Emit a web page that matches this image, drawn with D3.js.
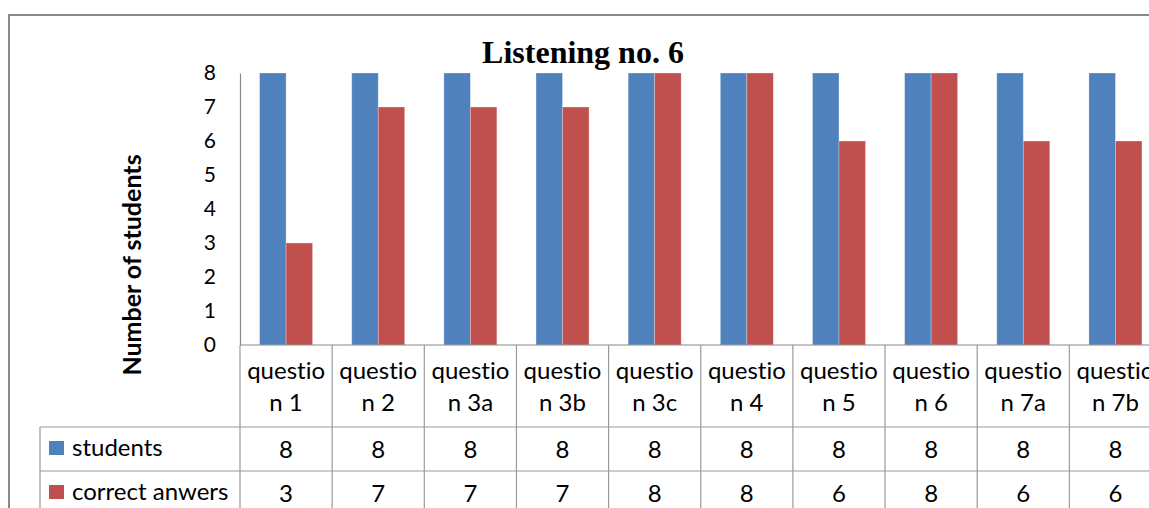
<!DOCTYPE html>
<html>
<head>
<meta charset="utf-8">
<script src="https://cdn.jsdelivr.net/npm/d3@7/dist/d3.min.js"></script>
<style>
  html, body { margin: 0; padding: 0; background: #ffffff; }
  svg { display: block; }
  text { font-variant-ligatures: none; }
</style>
</head>
<body>
<svg id="chart" width="1149" height="508"></svg>
<script>
// Quiz results for listening exercise no. 6
const categories = ["question 1", "question 2", "question 3a", "question 3b", "question 3c",
                    "question 4", "question 5", "question 6", "question 7a", "question 7b"];
const seriesNames = ["students", "correct anwers"];
const students = [8, 8, 8, 8, 8, 8, 8, 8, 8, 8];
const correctAnswers = [3, 7, 7, 7, 8, 8, 6, 8, 6, 6];
const yTicks = [0, 1, 2, 3, 4, 5, 6, 7, 8];
const colors = ["#4F81BD", "#C0504D"];

const seriesValues = [students, correctAnswers];

const svg = d3.select("#chart");
const W = 1149, H = 508;

// Plot geometry
const plotLeft = 240, plotTop = 73, plotBottom = 345;
const bandW = 92.15;
const plotRight = plotLeft + bandW * categories.length;
const legendLeft = 40;
const rowTops = [345, 427, 471, 515];

const x = d3.scaleBand().domain(categories).range([plotLeft, plotRight]).padding(0);
const xSub = d3.scaleBand().domain(seriesNames).range([0, x.bandwidth()])
  .paddingInner(0).paddingOuter(0.739);
const y = d3.scaleLinear().domain([0, 8]).range([plotBottom, plotTop]);

const sansFont = "Lato, 'Open Sans', sans-serif";
const lineColor = "#9a9a9a";

// Outer chart border
svg.append("rect")
  .attr("x", 9).attr("y", 15)
  .attr("width", 1200).attr("height", 600)
  .attr("fill", "none").attr("stroke", "#8a8a8a").attr("stroke-width", 2);

// Title
svg.append("text")
  .attr("x", 583).attr("y", 63)
  .attr("text-anchor", "middle")
  .attr("font-family", "'Liberation Serif', 'Times New Roman', serif")
  .attr("font-weight", "bold")
  .attr("font-size", 32)
  .attr("fill", "#000")
  .text("Listening no. 6");

// Y axis title
svg.append("text")
  .attr("transform", "translate(141,265) rotate(-90)")
  .attr("text-anchor", "middle")
  .attr("font-family", sansFont)
  .attr("font-weight", "bold")
  .attr("font-size", 25)
  .attr("fill", "#000")
  .text("Number of students");

// Bars
const groups = svg.append("g").selectAll("g")
  .data(categories)
  .join("g")
  .attr("transform", d => `translate(${x(d)},0)`);

groups.selectAll("rect")
  .data((d, i) => seriesNames.map((s, k) => ({ s, k, v: seriesValues[k][i] })))
  .join("rect")
  .attr("x", d => xSub(d.s))
  .attr("width", xSub.bandwidth())
  .attr("y", d => y(d.v))
  .attr("height", d => y(0) - y(d.v))
  .attr("fill", d => colors[d.k])
  .attr("stroke", "rgba(255,255,255,0.35)")
  .attr("stroke-width", 0.8);

// Y axis
const yAxis = d3.axisLeft(y).tickValues(yTicks).tickSize(0).tickPadding(24)
  .tickFormat(d3.format("d"));
const yAxisG = svg.append("g")
  .attr("transform", `translate(${plotLeft},0)`)
  .call(yAxis);
yAxisG.select(".domain").attr("stroke", "#8a8a8a").attr("stroke-width", 1.2);
yAxisG.selectAll("text")
  .attr("font-family", sansFont)
  .attr("font-size", 21)
  .attr("fill", "#000");

// Data table grid
const grid = svg.append("g").attr("stroke", lineColor).attr("stroke-width", 1.2).attr("fill", "none");
grid.append("line").attr("x1", plotLeft).attr("x2", W + 20).attr("y1", rowTops[0]).attr("y2", rowTops[0])
  .attr("stroke", "#8a8a8a");
[rowTops[1], rowTops[2], rowTops[3]].forEach(ry => {
  grid.append("line").attr("x1", legendLeft).attr("x2", W + 20).attr("y1", ry).attr("y2", ry);
});
grid.append("line").attr("x1", legendLeft).attr("x2", legendLeft).attr("y1", rowTops[1]).attr("y2", H + 20);
categories.concat([null]).forEach((c, i) => {
  const gx = plotLeft + i * bandW;
  grid.append("line").attr("x1", gx).attr("x2", gx).attr("y1", rowTops[0]).attr("y2", H + 20);
});

// Category labels (wrapped over two lines)
const catLabels = svg.append("g")
  .attr("font-family", sansFont).attr("font-size", 24).attr("fill", "#000")
  .attr("text-anchor", "middle");
categories.forEach(c => {
  const cx = x(c) + x.bandwidth() / 2;
  catLabels.append("text").attr("x", cx).attr("y", 379).text(c.slice(0, 7));
  catLabels.append("text").attr("x", cx).attr("y", 411).text(c.slice(7));
});

// Table rows: legend key + values
seriesNames.forEach((s, k) => {
  const top = rowTops[k + 1], bottom = rowTops[k + 2];
  const mid = (top + bottom) / 2;
  svg.append("rect")
    .attr("x", 49).attr("y", mid - 8)
    .attr("width", 15).attr("height", 14)
    .attr("fill", colors[k]);
  svg.append("text")
    .attr("x", 72).attr("y", mid + 7)
    .attr("font-family", sansFont).attr("font-size", 24).attr("fill", "#000")
    .text(s);
  categories.forEach((c, i) => {
    svg.append("text")
      .attr("x", x(c) + x.bandwidth() / 2)
      .attr("y", mid + 9)
      .attr("text-anchor", "middle")
      .attr("font-family", sansFont).attr("font-size", 24).attr("fill", "#000")
      .text(seriesValues[k][i]);
  });
});
</script>
</body>
</html>
